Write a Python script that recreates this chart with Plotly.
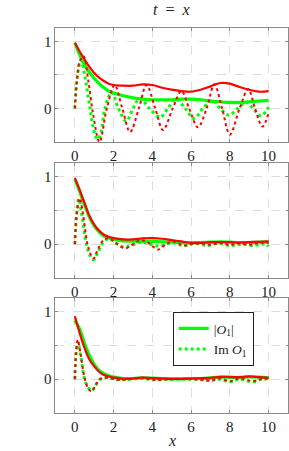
import plotly.graph_objects as go

# ---------------- data ----------------
x_abs = [0, 0.25, 0.5, 0.75, 1, 1.25, 1.5, 1.75, 2, 2.5, 3, 3.5, 4, 4.5, 5,
         5.5, 6, 6.5, 7, 7.5, 8, 8.5, 9, 9.5, 10]

# panel 1
p1_green_abs = [0.98, 0.80, 0.65, 0.54, 0.45, 0.37, 0.31, 0.26, 0.23, 0.19, 0.16, 0.14, 0.13,
                0.13, 0.13, 0.14, 0.14, 0.13, 0.11, 0.10, 0.09, 0.09, 0.10, 0.11, 0.12]
p1_red_abs = [0.98, 0.85, 0.73, 0.62, 0.53, 0.46, 0.41, 0.37, 0.35, 0.34, 0.34, 0.36, 0.35,
              0.31, 0.28, 0.26, 0.25, 0.28, 0.33, 0.38, 0.37, 0.32, 0.28, 0.25, 0.26]
p1_green_im_x = [0, 0.12, 0.3, 0.5, 0.78, 1.0, 1.18, 1.35, 1.55, 1.9, 2.25, 2.65, 3.0, 3.35,
                 3.85, 4.4, 4.8, 5.2, 5.7, 6.15, 6.6, 7.1, 7.5, 7.95, 8.4, 8.85, 9.2, 9.6, 10]
p1_green_im = [0, 0.45, 0.72, 0.5, 0, -0.35, -0.46, -0.36, 0, 0.24, 0, -0.19, 0, 0.15,
               0, -0.13, 0, 0.14, 0, -0.15, 0, 0.12, 0, -0.10, 0, 0.09, 0, -0.11, 0.02]
p1_red_im_x = [0, 0.1, 0.25, 0.45, 0.7, 0.95, 1.27, 1.65, 2.05, 2.45, 2.85, 3.3, 3.7, 4.15,
               4.55, 5.05, 5.5, 5.9, 6.35, 6.8, 7.2, 7.6, 8.0, 8.5, 8.95, 9.3, 9.68, 10]
p1_red_im = [0, 0.4, 0.7, 0.78, 0.4, -0.1, -0.5, 0, 0.35, 0, -0.35, 0, 0.35, 0,
             -0.32, 0, 0.26, 0, -0.28, 0, 0.36, 0, -0.39, 0, 0.29, 0, -0.27, -0.07]

# panel 2
p2_green_abs = [0.96, 0.78, 0.58, 0.40, 0.27, 0.18, 0.12, 0.09, 0.07, 0.05, 0.045, 0.04, 0.04,
                0.035, 0.03, 0.025, 0.02, 0.025, 0.03, 0.035, 0.03, 0.025, 0.025, 0.03, 0.03]
p2_red_abs = [0.98, 0.80, 0.61, 0.42, 0.29, 0.20, 0.14, 0.11, 0.09, 0.07, 0.07, 0.085, 0.09,
              0.08, 0.06, 0.04, 0.02, 0.02, 0.03, 0.03, 0.03, 0.025, 0.03, 0.035, 0.04]
p2_green_im_x = [0, 0.08, 0.2, 0.35, 0.6, 0.8, 0.97, 1.15, 1.45, 1.75, 2.1, 2.5, 2.9, 3.4,
                 3.9, 4.4, 5.0, 5.6, 6.2, 6.8, 7.4, 8.0, 8.6, 9.2, 9.8, 10]
p2_green_im = [0, 0.4, 0.67, 0.45, 0, -0.18, -0.23, -0.15, 0.02, 0.08, 0.02, -0.04, -0.02, 0.03,
               0, -0.03, 0.02, -0.02, 0.01, -0.02, 0.01, -0.02, 0, -0.02, 0, -0.03]
p2_red_im_x = [0, 0.1, 0.25, 0.42, 0.65, 0.85, 0.97, 1.15, 1.45, 1.75, 2.1, 2.6, 3.0, 3.4,
               3.8, 4.3, 4.7, 5.1, 5.6, 6.0, 6.5, 7.0, 7.5, 8.0, 8.5, 9.0, 9.5, 10]
p2_red_im = [0, 0.45, 0.68, 0.45, 0, -0.17, -0.21, -0.1, 0.05, 0.09, 0.02, -0.06, 0, 0.06,
             0.02, -0.08, 0, 0.04, -0.02, 0, 0.01, -0.01, 0.02, -0.01, 0.01, -0.01, 0.02, 0.02]

# panel 3
p3_green_abs = [0.87, 0.74, 0.53, 0.35, 0.22, 0.13, 0.08, 0.05, 0.03, 0.01, 0.01, 0.02, 0.015,
                0.01, 0.005, 0.005, 0.01, 0.01, 0.02, 0.03, 0.03, 0.025, 0.035, 0.03, 0.02]
p3_red_abs = [0.93, 0.68, 0.46, 0.29, 0.19, 0.11, 0.06, 0.04, 0.025, 0.005, 0.01, 0.025, 0.015,
              0.01, 0.005, 0.005, 0.01, 0.015, 0.02, 0.035, 0.03, 0.03, 0.04, 0.03, 0.02]
p3_im_x = [0, 0.06, 0.15, 0.3, 0.5, 0.7, 0.87, 1.05, 1.3, 1.7, 2.2, 2.8, 3.5, 4.0, 5.0, 6.0,
           6.5, 7.0, 7.5, 8.0, 8.5, 9.2, 9.6, 10]
p3_green_im = [0, 0.35, 0.55, 0.35, 0, -0.13, -0.17, -0.1, 0, 0.02, -0.01, 0, 0.01, -0.01, 0, 0,
               -0.01, -0.02, 0, -0.04, 0, -0.04, 0, 0]
p3_red_im = [0, 0.38, 0.58, 0.36, 0.02, -0.14, -0.18, -0.1, 0, 0.02, -0.01, 0, 0.02, -0.01, 0, 0,
             -0.01, -0.02, 0.01, -0.03, 0.01, -0.03, 0, 0.01]

x_ticks = [0, 2, 4, 6, 8, 10]
y_ticks = [0, 1]

GREEN = "#00ff00"
RED = "#ff0000"
FONT = "Liberation Serif, Times New Roman, serif"

panels = [
    (p1_green_abs, p1_red_abs, p1_green_im_x, p1_green_im, p1_red_im_x, p1_red_im),
    (p2_green_abs, p2_red_abs, p2_green_im_x, p2_green_im, p2_red_im_x, p2_red_im),
    (p3_green_abs, p3_red_abs, p3_im_x, p3_green_im, p3_im_x, p3_red_im),
]

domains = [[0.6851, 0.9379], [0.3836, 0.6386], [0.0843, 0.3392]]

fig = go.Figure()
for i, (gabs, rabs, gix, gim, rix, rim) in enumerate(panels):
    n = i + 1
    xa = "x" if n == 1 else f"x{n}"
    ya = "y" if n == 1 else f"y{n}"
    show = (n == 3)
    fig.add_trace(go.Scatter(x=x_abs, y=gabs, mode="lines", xaxis=xa, yaxis=ya,
                             line=dict(color=GREEN, width=3.2, shape="spline"),
                             name="|<i>O</i><sub>1</sub>|", showlegend=show))
    fig.add_trace(go.Scatter(x=gix, y=gim, mode="lines", xaxis=xa, yaxis=ya,
                             line=dict(color=GREEN, width=3, dash="dot", shape="spline"),
                             name="Im <i>O</i><sub>1</sub>", showlegend=show))
    fig.add_trace(go.Scatter(x=x_abs, y=rabs, mode="lines", xaxis=xa, yaxis=ya,
                             line=dict(color=RED, width=2.2, shape="spline"),
                             showlegend=False))
    fig.add_trace(go.Scatter(x=rix, y=rim, mode="lines", xaxis=xa, yaxis=ya,
                             line=dict(color=RED, width=2, dash="dot", shape="spline"),
                             showlegend=False))

axis_common = dict(showline=True, linecolor="#8a8a8a", linewidth=1, mirror="ticks",
                   ticks="inside", ticklen=3, tickcolor="#8a8a8a",
                   showgrid=True, gridcolor="#dddddd", griddash="dash", gridwidth=1,
                   zeroline=False, tickfont=dict(family=FONT, size=15, color="#222"))

layout = dict(width=289, height=451, margin=dict(l=0, r=0, t=0, b=0),
              plot_bgcolor="white", paper_bgcolor="white",
              font=dict(family=FONT, color="#222"))
for i in range(3):
    n = i + 1
    xk = "xaxis" if n == 1 else f"xaxis{n}"
    yk = "yaxis" if n == 1 else f"yaxis{n}"
    layout[xk] = dict(axis_common, domain=[0.192, 0.9965], range=[-1, 11],
                      tickvals=x_ticks, anchor="y" if n == 1 else f"y{n}")
    layout[yk] = dict(axis_common, domain=domains[i], range=[-0.5, 1.2],
                      tickvals=y_ticks,
                      minor=dict(tickmode="linear", tick0=0, dtick=0.5, showgrid=True,
                                 gridcolor="#dddddd", griddash="dash", gridwidth=1,
                                 ticks="inside", ticklen=2, tickcolor="#8a8a8a"),
                      anchor="x" if n == 1 else f"x{n}")

fig.update_layout(**layout)
fig.update_layout(
    legend=dict(x=0.5976, y=0.308, xanchor="left", yanchor="top",
                bordercolor="#222", borderwidth=1, bgcolor="white",
                font=dict(family=FONT, size=13.5, color="#222"),
                itemwidth=30, tracegroupgap=0),
    annotations=[
        dict(text="<i>t</i>&nbsp;&nbsp;=&nbsp;&nbsp;<i>x</i>", x=0.594, y=0.978,
             xref="paper", yref="paper", xanchor="center", yanchor="middle",
             showarrow=False, font=dict(family=FONT, size=16, color="#222")),
        dict(text="<i>x</i>", x=0.594, y=0.024, xref="paper", yref="paper",
             xanchor="center", yanchor="middle",
             showarrow=False, font=dict(family=FONT, size=16, color="#222")),
    ],
)

fig.write_html("out.html", config={"displayModeBar": False},
               post_script="document.body.style.margin='0';document.body.style.overflow='hidden';")
